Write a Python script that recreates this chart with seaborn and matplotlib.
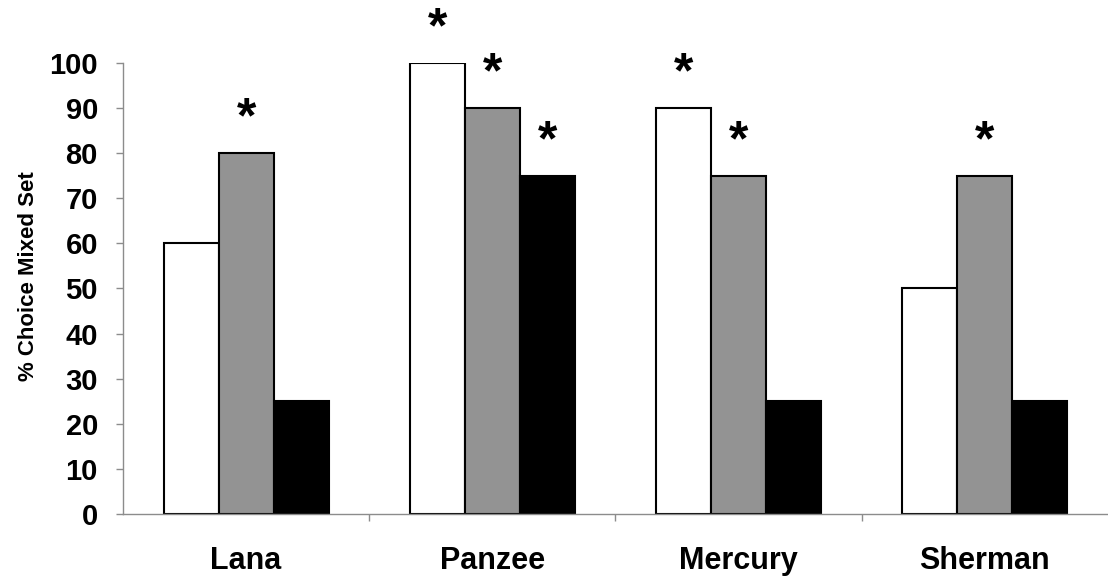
import numpy as np
import pandas as pd
import matplotlib
matplotlib.use("Agg")
import matplotlib.pyplot as plt
from matplotlib.ticker import FixedLocator
import seaborn as sns

# -----------------------------
# data
# -----------------------------
subjects = ["Lana", "Panzee", "Mercury", "Sherman"]
conditions = ["A", "B", "C"]
white_vals = [60, 100, 90, 50]
gray_vals = [80, 90, 75, 75]
black_vals = [25, 75, 25, 25]
# which bars carry a significance star
white_star = [False, True, True, False]
gray_star = [True, True, True, True]
black_star = [False, True, False, False]

bar_colors = ["#ffffff", "#939393", "#000000"]

df = pd.DataFrame({
    "subject": subjects * 3,
    "condition": [c for c in conditions for _ in subjects],
    "value": white_vals + gray_vals + black_vals,
})

sns.set_style("white")
plt.rcParams["font.family"] = ["Liberation Sans", "DejaVu Sans"]
plt.rcParams["text.color"] = "black"
plt.rcParams["axes.labelcolor"] = "black"
plt.rcParams["xtick.color"] = "black"
plt.rcParams["ytick.color"] = "black"

fig = plt.figure(figsize=(11.08, 5.8), dpi=100)
ax = fig.add_axes([0.111, 0.1138, 0.889, 0.7776])

sns.barplot(
    data=df, x="subject", y="value", hue="condition",
    palette=bar_colors, width=0.67, gap=0,
    edgecolor="black", linewidth=1.5, legend=False, ax=ax,
)

# asterisks above the significant bars
stars = [white_star, gray_star, black_star]
for cont, flags in zip(ax.containers, stars):
    for bar, flag in zip(cont, flags):
        if flag:
            ax.text(bar.get_x() + bar.get_width() / 2, bar.get_height() + 7.5, "*",
                    ha="center", va="center", fontsize=36, fontweight="bold",
                    color="black", clip_on=False)

ax.set_ylim(0, 100)
ax.set_xlim(-0.5, 3.5)
ax.set_yticks(np.arange(0, 101, 10))
ax.set_xlabel("")
ax.set_ylabel("% Choice Mixed Set", fontsize=16, fontweight="bold")
ax.yaxis.set_label_coords(-0.085, 0.528)

for s in ["top", "right"]:
    ax.spines[s].set_visible(False)
for s in ["left", "bottom"]:
    ax.spines[s].set_color("#8c8c8c")
    ax.spines[s].set_linewidth(1)

ax.tick_params(axis="y", length=5, width=1, color="#8c8c8c", direction="out",
               pad=13, labelsize=21, left=True, labelcolor="black")
ax.tick_params(axis="x", which="major", length=0, pad=23, labelsize=22,
               labelcolor="black")
ax.xaxis.set_minor_locator(FixedLocator([0.5, 1.5, 2.5]))
ax.tick_params(axis="x", which="minor", length=5, width=1, color="#8c8c8c",
               direction="out", bottom=True)
for lab in ax.get_xticklabels() + ax.get_yticklabels():
    lab.set_fontweight("bold")

plt.savefig("out.png", dpi=100)
